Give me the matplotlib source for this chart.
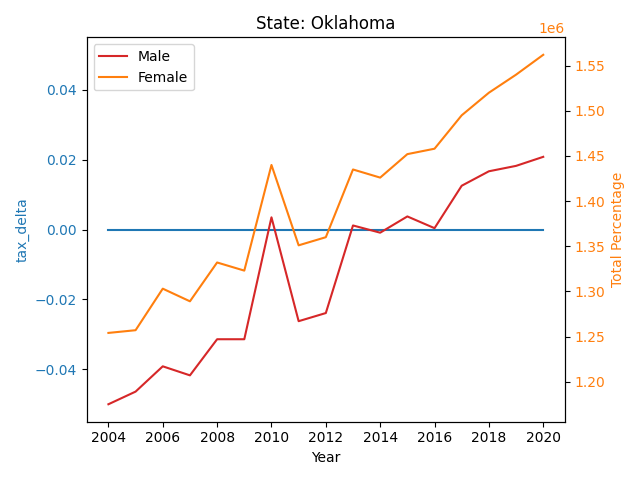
import matplotlib
matplotlib.use("Agg")
import matplotlib.pyplot as plt

years = list(range(2004, 2021))
tax_delta = [0.0] * len(years)
male = [1.175, 1.189, 1.217, 1.207, 1.247, 1.247, 1.382, 1.267, 1.276, 1.373,
        1.365, 1.383, 1.370, 1.417, 1.433, 1.439, 1.449]
female = [1.254, 1.257, 1.303, 1.289, 1.332, 1.323, 1.440, 1.351, 1.360, 1.435,
          1.426, 1.452, 1.458, 1.495, 1.520, 1.540, 1.562]

fig, ax1 = plt.subplots(figsize=(6.4, 4.8), dpi=100)
ax1.plot(years, tax_delta, color='tab:blue')
ax1.set_xlabel('Year')
ax1.set_ylabel('tax_delta', color='tab:blue')
ax1.tick_params(axis='y', labelcolor='tab:blue')

ax2 = ax1.twinx()
ax2.plot(years, [v * 1e6 for v in male], color='tab:red', label='Male')
ax2.plot(years, [v * 1e6 for v in female], color='tab:orange', label='Female')
ax2.set_ylabel('Total Percentage', color='tab:orange')
ax2.tick_params(axis='y', labelcolor='tab:orange')
ax2.yaxis.get_offset_text().set_color('tab:orange')
ax2.legend(loc='upper left')

plt.title('State: Oklahoma')
fig.tight_layout()
plt.savefig('out.png')
plt.close()
